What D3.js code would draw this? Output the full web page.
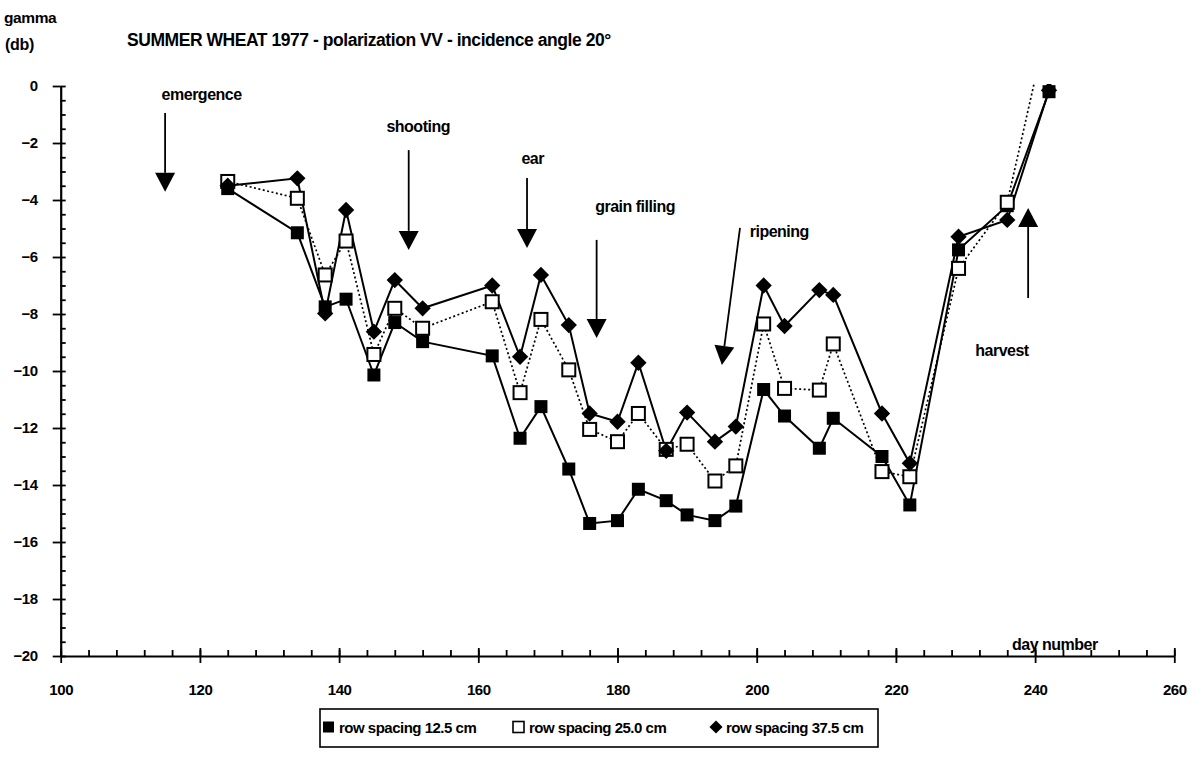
<!DOCTYPE html>
<html>
<head>
<meta charset="utf-8">
<script src="https://cdn.jsdelivr.net/npm/d3@7"></script>
<style>
  html, body { margin: 0; padding: 0; background: #fff; }
  svg { display: block; font-family: "Liberation Sans", Arial, Helvetica, sans-serif; font-weight: bold; }
</style>
</head>
<body>
<svg id="chart" width="1197" height="763"></svg>
<script>
// Day numbers of the radar measurements
const days = [124, 134, 138, 141, 145, 148, 152, 162, 166, 169, 173, 176, 180, 183,
              187, 190, 194, 197, 201, 204, 209, 211, 218, 222, 229, 236, 242];

// Backscatter gamma (dB) for each row spacing
const gamma125 = [-3.6, -5.15, -7.75, -7.48, -10.14, -8.3, -8.97, -9.47, -12.36, -11.25, -13.44, -15.35, -15.25, -14.15,
                  -14.55, -15.05, -15.25, -14.74, -10.65, -11.58, -12.71, -11.66, -13.0, -14.7, -5.75, -4.2, -0.2];
const gamma250 = [-3.35, -3.94, -6.63, -5.44, -9.42, -7.8, -8.5, -7.57, -10.76, -8.19, -9.96, -12.05, -12.48, -11.49,
                  -12.75, -12.57, -13.86, -13.33, -8.35, -10.61, -10.67, -9.05, -13.53, -13.71, -6.4, -4.08, 2.4];
const gamma375 = [-3.5, -3.24, -7.98, -4.35, -8.62, -6.81, -7.8, -7.0, -9.5, -6.63, -8.39, -11.49, -11.78, -9.71,
                  -12.8, -11.46, -12.48, -11.95, -7.0, -8.42, -7.16, -7.33, -11.49, -13.24, -5.29, -4.7, -0.15];

const seriesNames = ["row spacing 12.5 cm", "row spacing 25.0 cm", "row spacing 37.5 cm"];

// Axis ticks
const xTicks = [100, 120, 140, 160, 180, 200, 220, 240, 260];
const yTicks = [0, -2, -4, -6, -8, -10, -12, -14, -16, -18, -20];

// Growth stages: arrow tail and tip (day, dB), label anchor (day, dB)
const stageNames   = ["emergence", "shooting", "ear", "grain filling", "ripening", "harvest"];
const stageTailDay = [115, 150, 167, 177, 197.6, 239];
const stageTailVal = [-0.95, -2.25, -3.23, -5.4, -4.98, -7.44];
const stageTipDay  = [115, 150, 167, 177, 195, 239];
const stageTipVal  = [-3.71, -5.75, -5.68, -8.84, -9.79, -4.28];
const stageLblDay  = [114.5, 146.8, 166.2, 176.8, 199, 231.4];
const stageLblVal  = [-0.5, -1.62, -2.72, -4.43, -5.3, -9.46];

const svg = d3.select("#chart");

const x = d3.scaleLinear().domain([100, 260]).range([60.7, 1174.3]);
const y = d3.scaleLinear().domain([0, -20]).range([86, 656]);

const tickFont = 15;

// ---- header texts ----
svg.append("text").attr("x", 4).attr("y", 23).attr("font-size", 15.5).attr("letter-spacing", -0.4).text("gamma");
svg.append("text").attr("x", 5).attr("y", 50).attr("font-size", 16).attr("letter-spacing", -0.3).text("(db)");
svg.append("text").attr("x", 127).attr("y", 46).attr("font-size", 17.5).attr("letter-spacing", -0.45)
  .text("SUMMER WHEAT 1977 - polarization VV - incidence angle 20°");

// ---- y axis ----
const yMinor = d3.range(0, -20.01, -0.5);
svg.append("g").attr("transform", `translate(${x(100)},0)`)
  .call(d3.axisRight(y).tickValues(yMinor).tickSize(5).tickFormat(""))
  .call(g => g.select(".domain").remove())
  .call(g => g.selectAll("line").attr("stroke-width", 1.8));
svg.append("g").attr("transform", `translate(${x(100)},0)`)
  .call(d3.axisLeft(y).tickValues(yTicks).tickSize(8).tickPadding(15).tickSizeOuter(0))
  .call(g => g.select(".domain").attr("stroke-width", 2.2))
  .call(g => g.selectAll("line").attr("stroke-width", 1.8))
  .call(g => g.selectAll("text").attr("font-size", tickFont).attr("font-weight", "bold")
      .attr("font-family", "Liberation Sans, Arial, sans-serif").attr("fill", "#000").attr("letter-spacing", -0.4));

// ---- x axis ----
const xMinor = d3.range(100, 260.01, 4);
svg.append("g").attr("transform", `translate(0,${y(-20)})`)
  .call(d3.axisTop(x).tickValues(xMinor).tickSize(6).tickFormat(""))
  .call(g => g.select(".domain").remove())
  .call(g => g.selectAll("line").attr("stroke-width", 1.8));
svg.append("g").attr("transform", `translate(0,${y(-20)})`)
  .call(d3.axisBottom(x).tickValues(xTicks).tickSize(7).tickPadding(21).tickSizeOuter(0))
  .call(g => g.select(".domain").attr("stroke-width", 2.2))
  .call(g => g.selectAll("line").attr("y1", -8).attr("stroke-width", 1.8))
  .call(g => g.selectAll("text").attr("font-size", tickFont).attr("font-weight", "bold")
      .attr("font-family", "Liberation Sans, Arial, sans-serif").attr("fill", "#000").attr("letter-spacing", -0.4));

svg.append("text").attr("x", 1012).attr("y", 650).attr("font-size", 16).attr("letter-spacing", -0.5).text("day number");

// ---- growth stage arrows ----
const stages = stageNames.map((n, i) => ({
  name: n, x0: x(stageTailDay[i]), y0: y(stageTailVal[i]), x1: x(stageTipDay[i]), y1: y(stageTipVal[i]),
  lx: x(stageLblDay[i]), ly: y(stageLblVal[i])
}));
const sg = svg.append("g");
stages.forEach(s => {
  const ang = Math.atan2(s.y1 - s.y0, s.x1 - s.x0);
  const len = 19, half = 10;
  const bx = s.x1 - len * Math.cos(ang), by = s.y1 - len * Math.sin(ang);
  sg.append("line").attr("x1", s.x0).attr("y1", s.y0).attr("x2", bx).attr("y2", by)
    .attr("stroke", "#000").attr("stroke-width", 1.8);
  const px = -Math.sin(ang) * half, py = Math.cos(ang) * half;
  sg.append("path")
    .attr("d", `M${s.x1},${s.y1}L${bx + px},${by + py}L${bx - px},${by - py}Z`)
    .attr("fill", "#000");
  sg.append("text").attr("x", s.lx).attr("y", s.ly).attr("font-size", 16).attr("letter-spacing", -0.5).text(s.name);
});

// ---- data series ----
svg.append("clipPath").attr("id", "plotClip").append("rect")
  .attr("x", x(100)).attr("y", y(0) - 2).attr("width", x(260) - x(100)).attr("height", y(-20) - y(0) + 2);

const plot = svg.append("g").attr("clip-path", "url(#plotClip)");
const line = d3.line().x(d => x(d[0])).y(d => y(d[1]));
const pts = vals => days.map((d, i) => [d, vals[i]]);

const s125 = pts(gamma125), s250 = pts(gamma250), s375 = pts(gamma375);

plot.append("path").datum(s125).attr("d", line).attr("fill", "none").attr("stroke", "#000").attr("stroke-width", 2);
plot.append("path").datum(s250).attr("d", line).attr("fill", "none").attr("stroke", "#000")
  .attr("stroke-width", 1.7).attr("stroke-dasharray", "2,2.5");
plot.append("path").datum(s375).attr("d", line).attr("fill", "none").attr("stroke", "#000").attr("stroke-width", 2);

const sq = 13;
plot.selectAll(".f").data(s125).join("rect")
  .attr("x", d => x(d[0]) - sq / 2).attr("y", d => y(d[1]) - sq / 2)
  .attr("width", sq).attr("height", sq).attr("fill", "#000");
plot.selectAll(".o").data(s250).join("rect")
  .attr("x", d => x(d[0]) - sq / 2).attr("y", d => y(d[1]) - sq / 2)
  .attr("width", sq).attr("height", sq).attr("fill", "#fff").attr("stroke", "#000").attr("stroke-width", 2);
const diamond = d3.symbol().type(d3.symbolDiamond2).size(170);
plot.selectAll(".d").data(s375).join("path")
  .attr("transform", d => `translate(${x(d[0])},${y(d[1])})`)
  .attr("d", diamond).attr("fill", "#000");

// ---- legend ----
const lg = svg.append("g");
lg.append("rect").attr("x", 320).attr("y", 709).attr("width", 558).attr("height", 38)
  .attr("fill", "#fff").attr("stroke", "#000").attr("stroke-width", 1.6);
const legendX = [323, 513, 710];
const ls = 11;
lg.append("rect").attr("x", legendX[0]).attr("y", 728 - ls / 2 - 1).attr("width", ls).attr("height", ls).attr("fill", "#000");
lg.append("rect").attr("x", legendX[1]).attr("y", 728 - ls / 2 - 1).attr("width", ls).attr("height", ls)
  .attr("fill", "#fff").attr("stroke", "#000").attr("stroke-width", 1.6);
lg.append("path").attr("transform", `translate(${legendX[2] + 6},${727})`)
  .attr("d", d3.symbol().type(d3.symbolDiamond2).size(110)).attr("fill", "#000");
seriesNames.forEach((n, i) => {
  lg.append("text").attr("x", legendX[i] + 16).attr("y", 733).attr("font-size", 15)
    .attr("letter-spacing", -0.5).text(n);
});
</script>
</body>
</html>
